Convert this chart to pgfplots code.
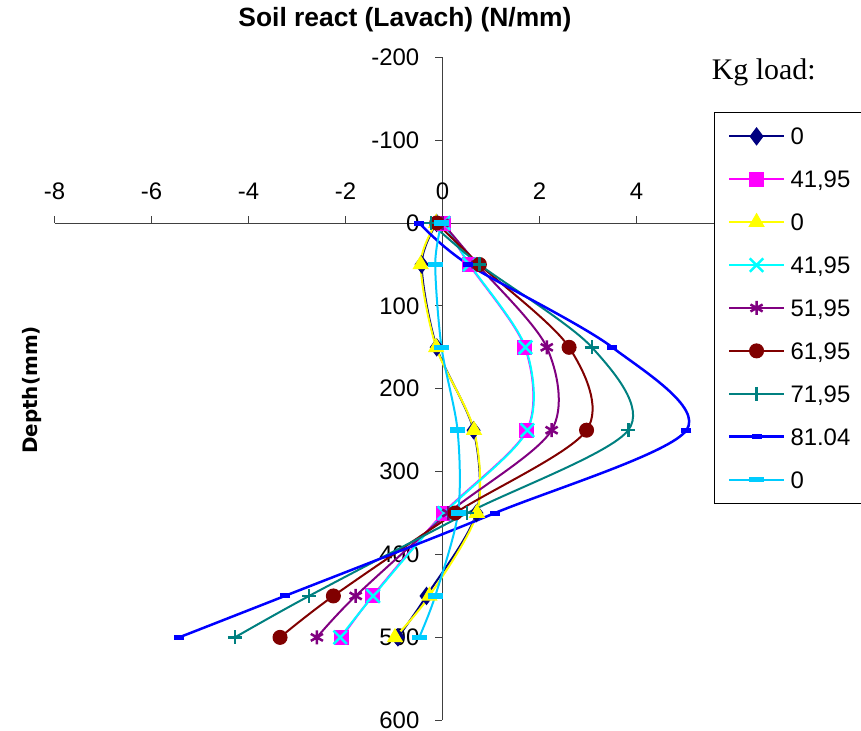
\documentclass[border=0pt]{standalone}
\usepackage{fontspec}
\setmainfont{Liberation Sans}
\newfontfamily\titlefont{Liberation Sans}
\newfontfamily\serifkg{Liberation Serif}
\newfontfamily\dejavu{DejaVu Sans}
\usepackage{pgfplots}
\pgfplotsset{compat=1.18}
\definecolor{snavy}{RGB}{0,0,128}
\definecolor{smagenta}{RGB}{255,0,255}
\definecolor{syellow}{RGB}{255,255,0}
\definecolor{scyan}{RGB}{0,255,255}
\definecolor{spurple}{RGB}{128,0,128}
\definecolor{sdarkred}{RGB}{128,0,0}
\definecolor{steal}{RGB}{0,128,128}
\definecolor{sblue}{RGB}{0,0,255}
\definecolor{slightblue}{RGB}{0,204,255}
\definecolor{axisgray}{RGB}{64,64,64}
\begin{document}
\begin{tikzpicture}
\useasboundingbox (0,0) rectangle (861bp,731bp);
\begin{axis}[
  scale only axis, width=679bp, height=663bp,
  at={(442.5bp,508bp)}, anchor=origin,
  xmin=-8, xmax=6, ymin=-200, ymax=600, y dir=reverse,
  axis lines=middle, axis line style={-, axisgray, line width=1bp},
  xtick={-8,-6,-4,-2,0,2,4,6}, ytick={-200,-100,0,100,200,300,400,500,600},
  hide obscured x ticks=false, hide obscured y ticks=false,
  tick align=center, major tick length=7bp,
  tick style={axisgray, line width=1bp},
  xtick style={yshift=3.5bp}, ytick style={xshift=-4bp},
  /pgf/number format/assume math mode=true,
  tick label style={font=\fontsize{24}{28}\selectfont},
  xticklabel style={anchor=base, inner sep=0pt, yshift=26.7bp},
  yticklabel style={anchor=east, inner sep=0pt, xshift=-19.5bp},
  clip=false,
  legend cell align=left,
  legend image code/.code={\draw[mark repeat=2,mark phase=2,#1] plot coordinates {(0bp,0bp) (27.3bp,0bp) (54.6bp,0bp)}; \path (-13.7bp,0bp) (60bp,0bp);},
  legend style={at={(0.971,0.9176)}, anchor=north west, draw=black, line width=1bp, fill=white,
    inner xsep=0pt, inner ysep=15.4bp, row sep=25.7bp, column sep=0pt,
    font=\fontsize{24}{28}\selectfont,
    nodes={inner sep=0pt, text height=17.2bp, text depth=0pt, text width=80bp, align=left}},
]
\addplot[color=snavy, line width=2bp, smooth, mark=diamond*, mark size=8.5bp, mark options={fill=snavy, line width=1bp}]
  coordinates {(-0.12,0) (-0.43,50) (-0.12,150) (0.64,250) (0.70,350) (-0.33,450) (-0.92,500)};
\addlegendentry{0}
\addplot[color=smagenta, line width=2bp, smooth, mark=square*, mark size=7bp, mark options={fill=smagenta, line width=1bp}]
  coordinates {(0.02,0) (0.55,50) (1.70,150) (1.74,250) (0.02,350) (-1.44,450) (-2.08,500)};
\addlegendentry{41,95}
\addplot[color=syellow, line width=2bp, smooth, mark=triangle*, mark size=8.5bp, mark options={fill=syellow, line width=1bp}]
  coordinates {(-0.13,0) (-0.45,50) (-0.13,150) (0.65,250) (0.71,350) (-0.27,450) (-0.98,500)};
\addlegendentry{0}
\addplot[color=scyan, line width=2bp, smooth, mark=x, mark size=9.5bp, mark options={line width=2.5bp}]
  coordinates {(0.02,0) (0.56,50) (1.71,150) (1.75,250) (0.04,350) (-1.43,450) (-2.11,500)};
\addlegendentry{41,95}
\addplot[color=spurple, line width=2bp, smooth, mark=asterisk, mark size=7bp, mark options={line width=2.5bp}]
  coordinates {(0.0,0) (0.72,50) (2.15,150) (2.25,250) (0.12,350) (-1.79,450) (-2.59,500)};
\addlegendentry{51,95}
\addplot[color=sdarkred, line width=2bp, smooth, mark=*, mark size=7bp, mark options={fill=sdarkred, line width=1bp}]
  coordinates {(-0.12,0) (0.76,50) (2.61,150) (2.97,250) (0.26,350) (-2.25,450) (-3.35,500)};
\addlegendentry{61,95}
\addplot[color=steal, line width=2bp, smooth, mark=+, mark size=7bp, mark options={line width=2.5bp}]
  coordinates {(-0.24,0) (0.76,50) (3.08,150) (3.83,250) (0.51,350) (-2.75,450) (-4.28,500)};
\addlegendentry{71,95}
\addplot[color=sblue, line width=2.5bp, smooth, mark=-, mark size=5bp, mark options={line width=5bp}]
  coordinates {(-0.48,0) (0.53,50) (3.50,150) (5.03,250) (1.08,350) (-3.25,450) (-5.43,500)};
\addlegendentry{81.04}
\addplot[color=slightblue, line width=2bp, smooth, mark=-, mark size=7.5bp, mark options={line width=5.5bp}]
  coordinates {(-0.02,0) (-0.15,50) (-0.02,150) (0.31,250) (0.32,350) (-0.15,450) (-0.48,500)};
\addlegendentry{0}
\end{axis}
\node[font={\titlefont\bfseries\fontsize{26.5}{30}\selectfont}, anchor=base, inner sep=0pt] at (405bp,704bp) {Soil react (Lavach) (N/mm)};
\node[font={\serifkg\fontsize{30}{34}\selectfont}, anchor=base west, inner sep=0pt] at (711.7bp,651bp) {Kg load:};
\node[font={\dejavu\bfseries\fontsize{20}{24}\selectfont}, rotate=90, anchor=base, inner sep=0pt] at (37bp,341bp) {Depth(mm)};
\end{tikzpicture}
\end{document}
